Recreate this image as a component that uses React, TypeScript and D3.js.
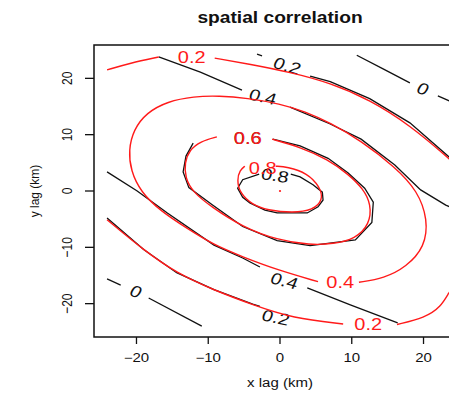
import React from "react";
import * as d3 from "d3";

type Pt = [number, number];

// lag axes (km)
const xTicks = [-20, -10, 0, 10, 20];
const yTicks = [-20, -10, 0, 10, 20];
const lagExtent: [number, number] = [-25.92, 25.92];

// fitted model correlation contours (red)
const model02: Pt[][] = [
    [[-24.1, 21.5], [-20.9, 22.7], [-16.9, 23.8]],
    [[-9.1, 23.6], [-4.2, 22.5], [1.4, 21.1], [7.0, 19.2], [12.5, 16.2], [18.1, 11.7], [23.6, 5.7], [24, 5.2]],
    [[-24.1, -5.1], [-19.0, -10.5], [-14.4, -14.6], [-9.2, -17.6], [-3.8, -20.2], [1.8, -22.6], [8.8, -23.6]],
    [[16.3, -23.7], [20.2, -22.5], [22.4, -20.6], [23.6, -17.9], [24, -17.2]]
];
const model04: Pt[][] = [
    [[5.3, -16.1], [-0.4, -14.0], [-5.2, -11.7], [-9.2, -9.6], [-13.0, -6.6], [-16.6, -3.6], [-19.4, -0.2],
        [-20.8, 3.6], [-21.1, 7.3], [-20.4, 10.9], [-18.6, 13.9], [-15.7, 15.9], [-12.0, 16.8], [-8.5, 16.9],
        [-4.6, 16.5], [0, 15.5], [3.5, 14.1], [7.0, 12.1], [11.3, 8.9], [16.0, 4.3], [19.2, 0], [20.6, -5.1],
        [20.2, -9.9], [17.6, -13.5], [14.5, -15.5], [11.0, -16.2]]
];
const model06: Pt[][] = [
    [[-8.8, 9.6], [-11.1, 8.8], [-12.6, 7.3], [-13.3, 5.0], [-13.2, 2.3], [-12.2, -0.1], [-9.6, -2.8], [-5.2, -6.4],
        [-0.4, -8.7], [4.2, -9.6], [7.4, -9.4], [10.5, -8.5], [12.5, -5.9], [12.7, -2.4], [11.6, 0.4], [9.5, 3.0],
        [6.7, 5.6], [2.8, 7.8], [-1.1, 9.2]]
];
const model08: Pt[][] = [
    [[-0.6, 4.4], [1.0, 4.3], [3.8, 3.2], [5.6, 0.7], [6.0, -1.6], [4.6, -3.4], [1.8, -3.9], [-1.8, -3.4],
        [-3.8, -2.5], [-5.6, -0.4], [-6.0, 2.0], [-5.6, 3.7], [-4.9, 4.4]]
];

// empirical correlation contours (black)
const emp0: Pt[][] = [
    [[10.7, 24.1], [14.5, 21.6], [18.1, 19.2]],
    [[22.0, 16.9], [23.6, 16.0], [24, 15.8]],
    [[-24.1, -15.6], [-22.2, -16.7]],
    [[-18.3, -19.0], [-10.9, -24.0]]
];
const emp02: Pt[][] = [
    [[-3.2, 24.3], [-2.5, 24.0]],
    [[4.2, 20.4], [7.0, 19.4], [12.5, 16.4], [18.1, 12.1], [23.6, 6.0], [24, 5.6]],
    [[-24.1, -4.8], [-19.0, -10.4], [-14.4, -14.5], [-9.2, -17.5], [-3.8, -20.1], [-2.8, -20.5]]
];
const emp04: Pt[][] = [
    [[-16.9, 23.8], [-11.1, 21.1], [-5.3, 17.9]],
    [[1.4, 14.9], [7.0, 11.9], [11.3, 9.2], [16.0, 4.6], [19.6, 0.2], [23.1, -2.5], [24, -3.0]],
    [[-24.1, 3.4], [-19.9, 0], [-15.7, -3.9], [-9.2, -9.6], [-5.2, -11.9], [-2.8, -13.5]],
    [[3.8, -17.2], [9.8, -20.2], [16.4, -23.4]]
];
const emp06: Pt[][] = [
    [[-12.1, 8.5], [-13.1, 6.2], [-13.5, 3.4], [-12.7, 0.6], [-9.4, -2.5], [-5.2, -6.3], [-0.4, -8.8],
        [4.2, -9.7], [10.5, -8.7], [12.8, -5.6], [13.0, -2.0], [11.8, 0.5], [9.5, 3.2], [6.7, 5.8], [2.8, 8.0], [-1.0, 9.2]]
];
const emp08: Pt[][] = [
    [[-2.9, 3.0], [-5.2, 2.0], [-5.9, 0.5], [-5.2, -1.1], [-4.2, -2.1], [-2.1, -3.4], [-0.4, -3.9], [3.8, -3.9],
        [5.3, -2.8], [6.0, -1.6], [5.9, -0.2], [4.6, 1.1], [2.8, 2.5], [1.5, 3.0]]
];

// contour labels: text, position (km), tilt
const modelLabels: [string, number, number, number][] = [
    ["0.2", -12.3, 23.6, 0],
    ["0.6", -4.5, 9.2, 0],
    ["0.8", -2.4, 3.9, 0],
    ["0.4", 8.4, -16.2, 0],
    ["0.2", 12.3, -23.8, 0]
];
const empLabels: [string, number, number, number][] = [
    ["0.2", 1.0, 22.2, 20],
    ["0", 19.9, 18.1, 25],
    ["0.4", -2.4, 16.7, 15],
    ["0.6", -4.5, 9.2, 0],
    ["0.8", -0.7, 2.7, 10],
    ["0.4", 0.6, -16.0, 18],
    ["0.2", -0.6, -22.5, 15],
    ["0", -20.1, -17.9, 25]
];

const origin: Pt = [0, 0];

const App = () => {
    const width = 449;
    const height = 393;
    const left = 94;
    const top = 45;
    const plotW = 372;
    const plotH = 292;
    const font = "'Liberation Sans', Arial, Helvetica, sans-serif";
    const red = "#ff1a1a";

    const xScale = d3.scaleLinear().domain(lagExtent).range([left, left + plotW]);
    const yScale = d3.scaleLinear().domain(lagExtent).range([top + plotH, top]);
    const fmt = d3.format("d");

    const jagged = d3.line<Pt>().x(d => xScale(d[0])).y(d => yScale(d[1]));
    const smooth = d3.line<Pt>().x(d => xScale(d[0])).y(d => yScale(d[1])).curve(d3.curveBasis);

    const empirical = [emp0, emp02, emp04, emp06, emp08];
    const model = [model02, model04, model06, model08];

    return (
        <svg width={width} height={height} style={{position: "absolute", left: 0, top: 0, background: "#fff"}}
            fontFamily={font}>
            <defs>
                <clipPath id="plot-clip">
                    <rect x={left} y={top} width={plotW} height={plotH}/>
                </clipPath>
            </defs>
            <text transform={`translate(${left + plotW / 2},23) scale(1.2,1)`} textAnchor="middle"
                fontSize={16} fontWeight="bold" fill="#111">spatial correlation</text>

            <g clipPath="url(#plot-clip)">
                {empirical.map((level, i) => level.map((seg, j) => (
                    <path key={`e-${i}-${j}`} d={jagged(seg) ?? ""} fill="none" stroke="#111" strokeWidth={1.3}/>
                )))}
                {empLabels.map(([t, lx, ly, a], i) => (
                    <text key={`el-${i}`} transform={`translate(${xScale(lx)},${yScale(ly)}) scale(1.25,1) rotate(${a})`}
                        textAnchor="middle" dominantBaseline="central" fontSize={16} fill="#111">{t}</text>
                ))}
                {model.map((level, i) => level.map((seg, j) => (
                    <path key={`m-${i}-${j}`} d={smooth(seg) ?? ""} fill="none" stroke={red} strokeWidth={1.4}/>
                )))}
                {modelLabels.map(([t, lx, ly, a], i) => (
                    <text key={`ml-${i}`} transform={`translate(${xScale(lx)},${yScale(ly)}) scale(1.25,1) rotate(${a})`}
                        textAnchor="middle" dominantBaseline="central" fontSize={16} fill={red}>{t}</text>
                ))}
                <circle cx={xScale(origin[0])} cy={yScale(origin[1])} r={1.1} fill={red}/>
            </g>

            <rect x={left} y={top} width={plotW} height={plotH} fill="none" stroke="#111" strokeWidth={1.5}/>

            {xTicks.map(t => (
                <g key={`xt-${t}`}>
                    <line x1={xScale(t)} x2={xScale(t)} y1={top + plotH} y2={top + plotH + 7} stroke="#111" strokeWidth={1.3}/>
                    <text transform={`translate(${xScale(t)},362) scale(1.25,1)`} textAnchor="middle"
                        fontSize={12} fill="#111">{fmt(t)}</text>
                </g>
            ))}
            {yTicks.map(t => (
                <g key={`yt-${t}`}>
                    <line x1={left} x2={left - 9} y1={yScale(t)} y2={yScale(t)} stroke="#111" strokeWidth={1.3}/>
                    <text transform={`translate(72,${yScale(t)}) scale(1.25,1) rotate(-90)`} textAnchor="middle"
                        fontSize={12} fill="#111">{fmt(t)}</text>
                </g>
            ))}

            <text transform={`translate(${left + plotW / 2},387) scale(1.25,1)`} textAnchor="middle"
                fontSize={12} fill="#111">x lag (km)</text>
            <text transform={`translate(39,${top + plotH / 2}) scale(1.1,1) rotate(-90)`} textAnchor="middle"
                fontSize={12} fill="#111">y lag (km)</text>
        </svg>
    );
};

export default App;
